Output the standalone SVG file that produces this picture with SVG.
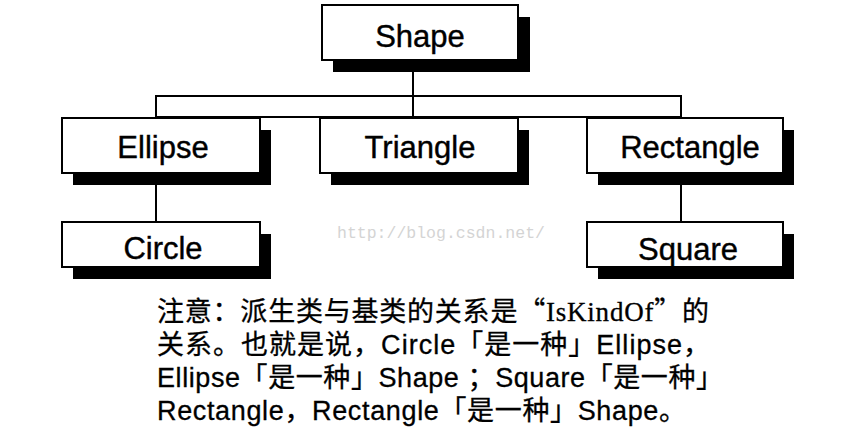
<svg xmlns="http://www.w3.org/2000/svg" width="864" height="444" viewBox="0 0 864 444">
<defs>
<style>
.box{fill:#fff;stroke:#000;stroke-width:2}
.sh{fill:#000}
.lbl{font-family:"Liberation Sans",Arial,sans-serif;font-size:31px;fill:#000;stroke:#000;stroke-width:0.4;text-anchor:middle}
.ln{fill:none;stroke:#000;stroke-width:2}
.note{font-family:"Liberation Sans","Noto Sans CJK SC",sans-serif;font-size:27px;fill:#000;stroke:#000;stroke-width:0.3}
.cjk{font-family:"Noto Sans CJK SC",sans-serif}
.ser{font-family:"Liberation Serif","Noto Sans CJK SC",serif}
.wm{font-family:"Liberation Mono",monospace;font-size:16.5px;fill:#d4d4d4}
</style>
</defs>
<rect width="864" height="444" fill="#fff"/>
<g id="connectors">
<line class="ln" x1="413" y1="60" x2="413" y2="117"/>
<rect class="ln" x="156" y="96" width="525" height="21"/>
<line class="ln" x1="156" y1="173" x2="156" y2="222"/>
<line class="ln" x1="681" y1="173" x2="681" y2="222"/>
</g>
<g id="shape">
<rect class="sh" x="333" y="17" width="197" height="55"/>
<rect class="box" x="322" y="5" width="196" height="55"/>
<text class="lbl" x="420" y="47">Shape</text>
</g>
<g id="ellipse">
<rect class="sh" x="73" y="130" width="198" height="55"/>
<rect class="box" x="62" y="118" width="198" height="55"/>
<text class="lbl" x="163" y="158">Ellipse</text>
</g>
<g id="triangle">
<rect class="sh" x="331" y="130" width="198" height="55"/>
<rect class="box" x="320" y="118" width="198" height="55"/>
<text class="lbl" x="420" y="158">Triangle</text>
</g>
<g id="rectangle">
<rect class="sh" x="598" y="130" width="196" height="55"/>
<rect class="box" x="587" y="118" width="196" height="55"/>
<text class="lbl" x="690" y="158">Rectangle</text>
</g>
<g id="circle">
<rect class="sh" x="73" y="234" width="198" height="45"/>
<rect class="box" x="62" y="222" width="198" height="45"/>
<text class="lbl" x="163" y="259">Circle</text>
</g>
<g id="square">
<rect class="sh" x="598" y="234" width="196" height="45"/>
<rect class="box" x="587" y="222" width="196" height="45"/>
<text class="lbl" x="688" y="260">Square</text>
</g>
<text class="wm" x="337" y="238">http://blog.csdn.net/</text>
<g id="note">
<text class="note" x="157" y="321" textLength="552" lengthAdjust="spacing">注意：派生类与基类的关系是<tspan class="cjk">“</tspan><tspan class="ser">IsKindOf</tspan><tspan class="cjk">”</tspan>的</text>
<text class="note" x="157" y="354" textLength="553" lengthAdjust="spacing">关系。也就是说，Circle「是一种」Ellipse，</text>
<text class="note" x="157" y="387" textLength="566" lengthAdjust="spacing">Ellipse「是一种」Shape ；Square「是一种」</text>
<text class="note" x="157" y="420" textLength="529" lengthAdjust="spacing">Rectangle，Rectangle「是一种」Shape。</text>
</g>
</svg>
